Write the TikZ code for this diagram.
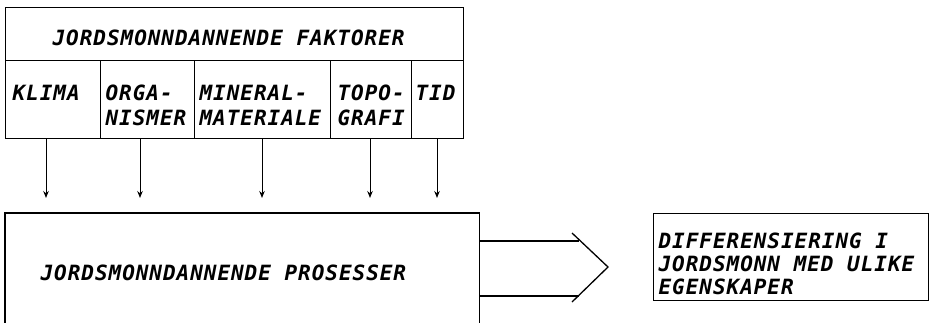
\documentclass[tikz,border=0pt]{standalone}
\usepackage{fontspec}
\newfontfamily\plotfont{DejaVu Sans Mono}[LetterSpace=4.6]
\usetikzlibrary{arrows.meta}
\begin{document}
\begin{tikzpicture}[x=1pt,y=-1pt,
  line width=1.3pt,
  cell/.style={draw, rectangle, anchor=north west, inner sep=0pt},
  txt/.style={anchor=base west, inner sep=0pt, font=\fontsize{21pt}{24pt}\plotfont\bfseries\itshape},
  arr/.style={-{Stealth[length=7pt,width=5.5pt]}, line width=1pt}]
\useasboundingbox (0,0) rectangle (935,322);
% top table
\node[cell, minimum width=458pt, minimum height=53pt] (hdr) at (5,7) {};
\node[cell, minimum width=95pt, minimum height=78pt] (klima) at (5,60) {};
\node[cell, minimum width=94pt, minimum height=78pt] (orga) at (100,60) {};
\node[cell, minimum width=136pt, minimum height=78pt] (mineral) at (194,60) {};
\node[cell, minimum width=81pt, minimum height=78pt] (topo) at (330,60) {};
\node[cell, minimum width=52pt, minimum height=78pt] (tid) at (411,60) {};
\node[txt] (thdr) at (52,45) {JORDSMONNDANNENDE FAKTORER};
\node[txt] (tklima) at (12,100) {KLIMA};
\node[txt] (torga1) at (105,100) {ORGA-};
\node[txt] (torga2) at (105,125) {NISMER};
\node[txt] (tmin1) at (199,100) {MINERAL-};
\node[txt] (tmin2) at (199,125) {MATERIALE};
\node[txt] (ttopo1) at (337,100) {TOPO-};
\node[txt] (ttopo2) at (337,125) {GRAFI};
\node[txt] (ttid) at (415,100) {TID};
% process box (open at bottom)
\node[rectangle, inner sep=0pt, anchor=north west, minimum width=473pt, minimum height=112pt] (proc) at (5,213) {};
\draw (proc.south west) -- (proc.north west) -- (proc.north east) -- (proc.south east);
\node[txt] (tproc) at (40,280) {JORDSMONNDANNENDE PROSESSER};
% arrow ends
\coordinate (e1) at (46,198);
\coordinate (e2) at (140,198);
\coordinate (e3) at (262,198);
\coordinate (e4) at (370,198);
\coordinate (e5) at (437,198);
\draw[arr] (klima.south -| e1) -- (e1);
\draw[arr] (orga.south -| e2) -- (e2);
\draw[arr] (mineral.south -| e3) -- (e3);
\draw[arr] (topo.south -| e4) -- (e4);
\draw[arr] (tid.south -| e5) -- (e5);
% big arrow
\coordinate (u) at (579,241);
\coordinate (l) at (579,296);
\coordinate (c1) at (572,233);
\coordinate (tip) at (608,267);
\coordinate (c2) at (572,302);
\draw (proc.east |- u) -- (u);
\draw (proc.east |- l) -- (l);
\draw (c1) -- (tip) -- (c2);
% result box
\node[cell, minimum width=275pt, minimum height=87pt] (diff) at (653,213) {};
\node[txt] (td1) at (658,248) {DIFFERENSIERING I};
\node[txt] (td2) at (658,271) {JORDSMONN MED ULIKE};
\node[txt] (td3) at (658,294) {EGENSKAPER};
\end{tikzpicture}
\end{document}
